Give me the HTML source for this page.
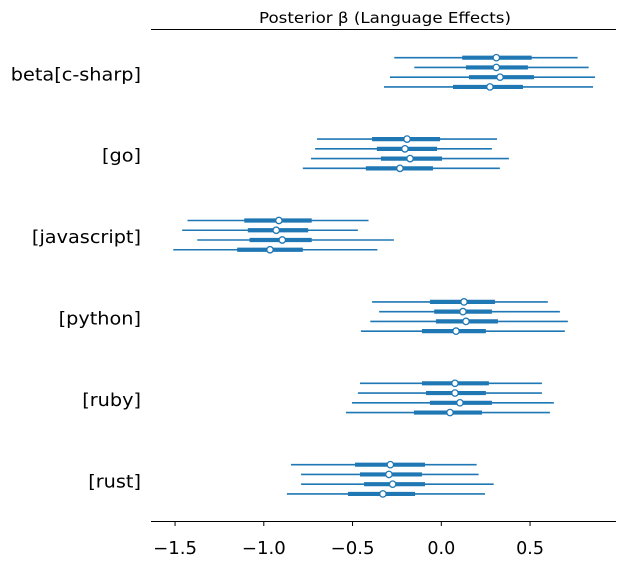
<!DOCTYPE html>
<html><head><meta charset="utf-8"><style>
html,body{margin:0;padding:0;background:#fff;}
svg text{font-family:"DejaVu Sans","Liberation Sans",sans-serif;fill:#000;}
</style></head><body>
<svg id="chart" width="626" height="561" viewBox="0 0 626 561" xmlns="http://www.w3.org/2000/svg">
<text x="385" y="23" font-size="15" text-anchor="middle" textLength="252" lengthAdjust="spacingAndGlyphs">Posterior β (Language Effects)</text>
<line x1="151" y1="29.5" x2="616" y2="29.5" stroke="#000" stroke-width="1"/>
<line x1="151" y1="521.5" x2="616" y2="521.5" stroke="#000" stroke-width="1"/>
<g id="marks"></g>
<g id="axis"></g>
</svg>
<script>
const categories = ["beta[c-sharp]","[go]","[javascript]","[python]","[ruby]","[rust]"];
const hdiLow = [[-0.265,-0.152,-0.289,-0.323],[-0.70,-0.711,-0.734,-0.78],[-1.43,-1.46,-1.375,-1.51],[-0.39,-0.35,-0.40,-0.453],[-0.458,-0.47,-0.503,-0.537],[-0.847,-0.79,-0.79,-0.87]];
const hdiHigh = [[0.768,0.83,0.866,0.855],[0.314,0.285,0.381,0.33],[-0.41,-0.47,-0.267,-0.36],[0.60,0.668,0.713,0.696],[0.567,0.567,0.634,0.612],[0.199,0.21,0.295,0.246]];
const iqrLow = [[0.118,0.139,0.156,0.066],[-0.39,-0.363,-0.34,-0.425],[-1.11,-1.09,-1.08,-1.15],[-0.064,-0.04,-0.03,-0.109],[-0.109,-0.086,-0.064,-0.154],[-0.486,-0.458,-0.435,-0.526]];
const iqrHigh = [[0.509,0.488,0.522,0.46],[-0.007,-0.024,0.004,-0.047],[-0.73,-0.75,-0.73,-0.78],[0.302,0.285,0.319,0.251],[0.268,0.251,0.285,0.229],[-0.092,-0.109,-0.092,-0.148]];
const medians = [[0.31,0.31,0.331,0.274],[-0.193,-0.205,-0.176,-0.233],[-0.915,-0.93,-0.896,-0.965],[0.128,0.122,0.139,0.083],[0.077,0.077,0.105,0.049],[-0.287,-0.295,-0.274,-0.329]];
const xTicks = [-1.5,-1.0,-0.5,0.0,0.5];
const xTickLabels = ["−1.5","−1.0","−0.5","0.0","0.5"];

const NS="http://www.w3.org/2000/svg";
const x = v => 441.3 + v*177.5;
const yRow = (g,i) => 57.7 + g*81.4 + i*9.75;
const marks=document.getElementById('marks'), axis=document.getElementById('axis');
const C="#1f77b4";
function mk(tag,attrs,parent){const e=document.createElementNS(NS,tag);for(const k in attrs)e.setAttribute(k,attrs[k]);parent.appendChild(e);return e;}
categories.forEach((cat,g)=>{
  const lab=mk('text',{x:141,y:yRow(g,1.5)+8,'font-size':18,'text-anchor':'end'},axis);
  lab.textContent=cat;
  
  
  const w=lab.getComputedTextLength();
  lab.setAttribute('textLength', w*1.07);
  lab.setAttribute('lengthAdjust', 'spacingAndGlyphs');
  for(let i=0;i<4;i++){
    const y=yRow(g,i);
    const h=mk('line',{x1:x(hdiLow[g][i]),x2:x(hdiHigh[g][i]),y1:y,y2:y,stroke:C,'stroke-width':1.6},marks);
    
    
    const q=mk('line',{x1:x(iqrLow[g][i]),x2:x(iqrHigh[g][i]),y1:y,y2:y,stroke:C,'stroke-width':4.2},marks);
    
    
    const m=mk('circle',{cx:x(medians[g][i]),cy:y,r:3.2,fill:'#fff',stroke:C,'stroke-width':1.3},marks);
    
    
  }
});
xTicks.forEach((t,i)=>{
  const tk=mk('line',{x1:x(t),x2:x(t),y1:521.5,y2:526,stroke:'#000','stroke-width':1},axis);
  
  
  const tl=mk('text',{x:x(t),y:554,'font-size':17.5,'text-anchor':'middle'},axis);
  tl.textContent=xTickLabels[i];
  
  
  if(xTickLabels[i].startsWith('−')){
    tl.setAttribute('textLength', 44);
    tl.setAttribute('lengthAdjust', 'spacingAndGlyphs');
  }
});
</script>
</body></html>
